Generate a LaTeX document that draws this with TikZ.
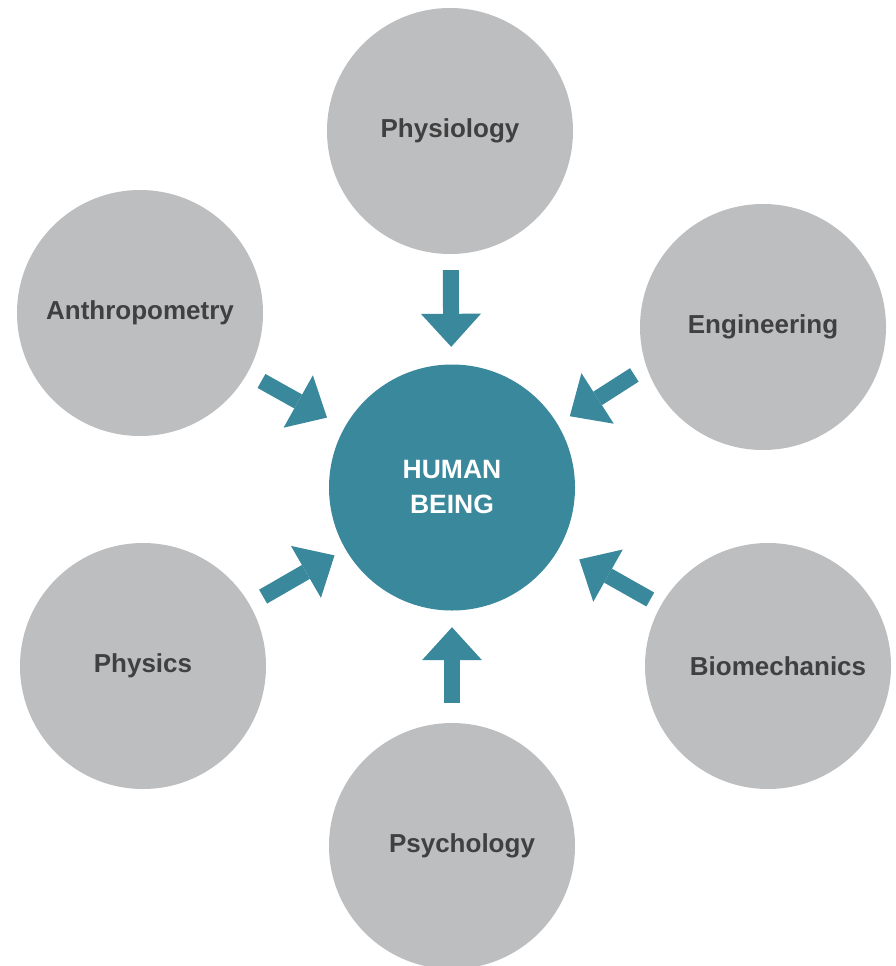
\documentclass[tikz,border=0pt]{standalone}
\usepackage{fontspec}
\setmainfont{Liberation Sans}
\usetikzlibrary{arrows.meta}
\definecolor{ringgray}{HTML}{BDBEC0}
\definecolor{coreteal}{HTML}{3A889C}
\definecolor{labelgray}{HTML}{404040}
\tikzset{
	field/.style={circle, fill=ringgray, minimum size=246pt, inner sep=0pt, text=labelgray, font=\bfseries\fontsize{26}{32}\selectfont},
	core/.style={field, fill=coreteal, text=white, align=center, font=\bfseries\fontsize{26.5}{35}\selectfont},
	feed/.style={coreteal, line width=16pt, -{Triangle[width=60pt,length=33pt,line width=0pt]}}
}

\begin{document}
\begin{tikzpicture}[x=1pt, y=-1pt]
		%%%%% START %%%%%
		
		\useasboundingbox (0, 0) rectangle (895, 966);
		
		\node[core] (human) at (452, 487.5) {HUMAN\\BEING};
		
		\node[field] (physiology) at (450, 131) {Physiology};
		\node[field] (engineering) at (763, 327) {Engineering};
		\node[field] (anthropometry) at (140, 313) {Anthropometry};
		\node[field] (physics) at (143, 666) {Physics};
		\node[field] (biomechanics) at (768, 666) {\hspace*{20pt}Biomechanics};
		\node[field] (psychology) at (452, 846) {\hspace*{20pt}Psychology};
		
		\draw[feed, shorten <=16pt, shorten >=17.5pt] (physiology) -- (human);
		\draw[feed, shorten <=14.5pt, shorten >=14.5pt] (engineering.199) -- (human.31);
		\draw[feed, shorten <=16pt, shorten >=20pt] (anthropometry) -- (human);
		\draw[feed, shorten <=15.5pt, shorten >=12.5pt] (physics) -- (human);
		\draw[feed, shorten <=12pt, shorten >=23pt] (biomechanics) -- (human);
		\draw[feed, shorten <=20pt, shorten >=16.5pt] (psychology) -- (human);
		
		%%%%% END %%%%%
\end{tikzpicture}
\end{document}
